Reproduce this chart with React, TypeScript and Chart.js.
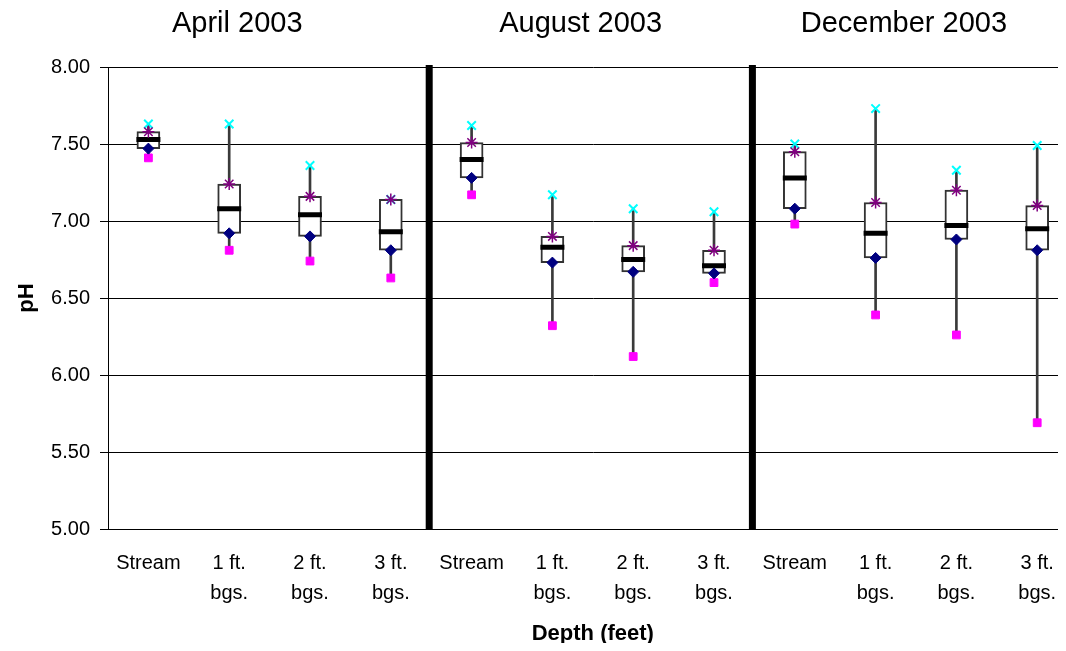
import React, { useEffect, useRef } from "react";
import { Chart, registerables } from "chart.js";

Chart.register(...registerables);

const categories: (string | string[])[] = [
  "Stream", ["1 ft.", "bgs."], ["2 ft.", "bgs."], ["3 ft.", "bgs."],
  "Stream", ["1 ft.", "bgs."], ["2 ft.", "bgs."], ["3 ft.", "bgs."],
  "Stream", ["1 ft.", "bgs."], ["2 ft.", "bgs."], ["3 ft.", "bgs."],
];
const groupTitles = ["April 2003", "August 2003", "December 2003"];

const maxValues = [7.63, 7.63, 7.36, 7.14, 7.62, 7.17, 7.08, 7.06, 7.5, 7.73, 7.33, 7.49];
const q3Values = [7.58, 7.24, 7.16, 7.14, 7.51, 6.9, 6.84, 6.81, 7.45, 7.12, 7.2, 7.1];
const medianValues = [7.53, 7.08, 7.04, 6.93, 7.4, 6.83, 6.75, 6.71, 7.28, 6.92, 6.97, 6.95];
const q1Values = [7.47, 6.92, 6.9, 6.81, 7.28, 6.73, 6.67, 6.66, 7.08, 6.76, 6.88, 6.81];
const minValues = [7.41, 6.81, 6.74, 6.63, 7.17, 6.32, 6.12, 6.6, 6.98, 6.39, 6.26, 5.69];

const yTicks = [5, 5.5, 6, 6.5, 7, 7.5, 8];

const FONT = '"Liberation Sans", Arial, sans-serif';

const decorPlugin = {
  id: "decor",
  afterDatasetsDraw(chart: any) {
    const { ctx, chartArea, scales } = chart;
    const x = scales.x;
    ctx.save();
    ctx.fillStyle = "#000";
    [4, 8].forEach((i) => {
      const px = (x.getPixelForValue(i - 1) + x.getPixelForValue(i)) / 2 - 2;
      ctx.fillRect(px - 3.5, chartArea.top - 2, 7, chartArea.bottom - chartArea.top + 2);
    });
    ctx.restore();
  },
  afterDraw(chart: any) {
    const { ctx, scales } = chart;
    const x = scales.x;
    const anchors = [1.1, 5.35, 9.35];
    ctx.save();
    ctx.fillStyle = "#000";
    ctx.font = `29px ${FONT}`;
    ctx.textAlign = "center";
    ctx.textBaseline = "alphabetic";
    groupTitles.forEach((t, i) => {
      ctx.fillText(t, x.getPixelForValue(anchors[i]), 24);
    });
    ctx.restore();
  },
};

export default function App() {
  const ref = useRef<HTMLCanvasElement>(null);
  useEffect(() => {
    if (!ref.current) return;
    const chart = new Chart(ref.current, {
      type: "bar",
      data: {
        labels: categories as any,
        datasets: [
          {
            type: "bar",
            data: minValues.map((v, i) => [v, maxValues[i]]) as any,
            backgroundColor: "#3a3a3a",
            barThickness: 2,
            grouped: false,
            order: 10,
          } as any,
          {
            type: "bar",
            data: q1Values.map((v, i) => [v, q3Values[i]]) as any,
            backgroundColor: "#ffffff",
            borderColor: "#333333",
            borderWidth: 2,
            borderSkipped: false,
            barThickness: 23,
            grouped: false,
            order: 9,
          } as any,
          {
            type: "line",
            data: medianValues,
            showLine: false,
            pointStyle: "line",
            pointRadius: 12,
            pointBorderWidth: 5,
            pointBorderColor: "#000",
            borderColor: "#000",
            order: 8,
          } as any,
          {
            type: "line",
            data: minValues,
            showLine: false,
            pointStyle: "rect",
            pointRadius: 5.5,
            pointBackgroundColor: "#ff00ff",
            pointBorderColor: "#ff00ff",
            pointBorderWidth: 1,
            order: 4,
          } as any,
          {
            type: "line",
            data: q1Values,
            showLine: false,
            pointStyle: "rectRot",
            pointRadius: 5.5,
            pointBackgroundColor: "#000080",
            pointBorderColor: "#000080",
            pointBorderWidth: 1,
            order: 3,
          } as any,
          {
            type: "line",
            data: maxValues,
            showLine: false,
            pointStyle: "crossRot",
            pointRadius: 6,
            pointBorderColor: "#00ffff",
            pointBorderWidth: 2,
            order: 2,
          } as any,
          {
            type: "line",
            data: q3Values,
            showLine: false,
            pointStyle: "star",
            pointRadius: 6,
            pointBorderColor: "#800080",
            pointBorderWidth: 1.5,
            order: 1,
          } as any,
        ],
      },
      options: {
        animation: false,
        responsive: false,
        maintainAspectRatio: false,
        devicePixelRatio: 1,
        layout: { autoPadding: false, padding: { top: 59, right: 5.4, left: 0, bottom: 0 } },
        plugins: {
          legend: { display: false },
          tooltip: { enabled: false },
        },
        scales: {
          x: {
            offset: true,
            grid: { display: false, drawTicks: false },
            border: { display: true, color: "#000", width: 1 },
            ticks: {
              color: "#000",
              font: { family: FONT, size: 20, lineHeight: 1.48 },
              padding: 20,
              maxRotation: 0,
              autoSkip: false,
            },
            title: {
              display: true,
              text: "Depth (feet)",
              color: "#000",
              font: { family: FONT, size: 22, weight: "bold", lineHeight: 1.2 },
              padding: { top: 0, bottom: 4 },
            },
            afterFit: (s: any) => {
              s.height = 122;
              s.paddingLeft = 0;
              s.paddingRight = 0;
            },
          },
          y: {
            min: 5,
            max: 8,
            afterBuildTicks: (s: any) => {
              s.ticks = yTicks.map((v) => ({ value: v }));
            },
            grid: { color: "#000", lineWidth: 1, tickLength: 8, drawTicks: true },
            border: { display: true, color: "#000", width: 1 },
            ticks: {
              color: "#000",
              font: { family: FONT, size: 20 },
              padding: 10,
              callback: (v: any) => Number(v).toFixed(2),
            },
            title: {
              display: true,
              text: "pH",
              color: "#000",
              font: { family: FONT, size: 22, weight: "bold", lineHeight: 1.2 },
              padding: { top: 6, bottom: 0 },
            },
            afterFit: (s: any) => {
              s.width = 100;
              s.paddingTop = 0;
              s.paddingBottom = 0;
            },
          },
        },
      },
      plugins: [decorPlugin],
    } as any);
    return () => chart.destroy();
  }, []);
  return (
    <div style={{ position: "relative", width: 1058, height: 635, overflow: "hidden" }}>
      <div style={{ position: "absolute", left: 0, top: 0, width: 1075, height: 643 }}>
        <canvas ref={ref} width={1075} height={643} style={{ width: 1075, height: 643, display: "block" }} />
      </div>
    </div>
  );
}
